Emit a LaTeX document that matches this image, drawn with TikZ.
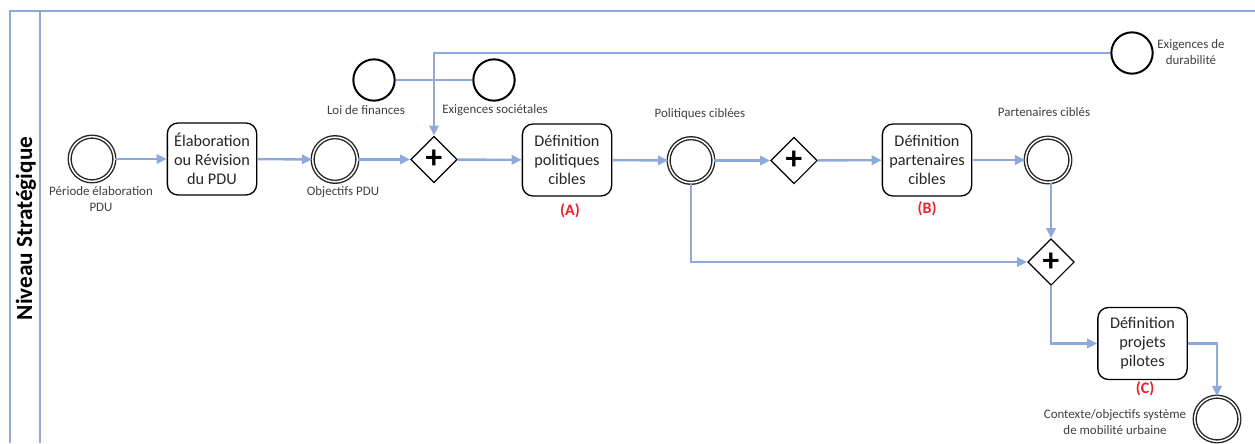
\documentclass[tikz,border=0pt]{standalone}
\usepackage{fontspec}
\setmainfont{Carlito}
\usetikzlibrary{shapes.geometric,arrows.meta}
\definecolor{flow}{RGB}{142,170,219}
\definecolor{lbl}{RGB}{64,64,64}
\definecolor{redlbl}{RGB}{240,30,40}
\tikzset{
  x=0.75pt,y=-0.75pt,
  flowline/.style={draw=flow,line width=1.8pt,-{Triangle[length=7.5pt,width=7pt,fill=flow]}},
  plainflow/.style={draw=flow,line width=1.8pt},
  frameline/.style={draw=flow,line width=1.7pt},
  ev/.style={circle,draw=black,line width=1.5pt,minimum size=31pt,inner sep=0pt,fill=white},
  dbl/.style={circle,draw=black!85,line width=1.05pt,double=white,double distance=1.1pt,minimum size=33.5pt,inner sep=0pt,fill=white},
  gate/.style={diamond,draw=black,line width=0.9pt,minimum width=35pt,minimum height=35pt,inner sep=0pt,fill=white,font=\fontsize{25}{25}\selectfont\bfseries,text=black},
  task/.style={draw=black,line width=1pt,rounded corners=8pt,minimum width=67pt,minimum height=54pt,inner sep=0pt,align=center,fill=white,font=\fontsize{12.2}{14.3}\selectfont,text=black!85},
  lab/.style={align=center,inner sep=0pt,text=lbl,font=\fontsize{9.7}{11.6}\selectfont},
  tag/.style={inner sep=0pt,text=redlbl,font=\fontsize{12}{14}\selectfont\bfseries},
}
\begin{document}
\begin{tikzpicture}
\useasboundingbox (0,0) rectangle (1255,443);
% lane frame
\coordinate (fbl) at (10,443);
\coordinate (ftl) at (10,11);
\coordinate (ftr) at (1255,11);
\coordinate (iline) at (40,11);
\coordinate (ibot) at (40,443);
\draw[frameline] (fbl) -- (ftl) -- (ftr);
\draw[frameline] (iline) -- (ibot);
\node[rotate=90,inner sep=0pt,font=\fontsize{17.4}{18}\selectfont\bfseries,text=black] (lane) at (26,228.5) {Niveau Stratégique};
% nodes
\node[dbl] (e1) at (92,159) {};
\node[task] (t1) at (212,159) {Élaboration\\ou Révision\\du PDU};
\node[dbl] (e2) at (335,159.5) {};
\node[gate] (g1) at (434,159.5) {+};
\node[task] (t2) at (567,160) {Définition\\politiques\\cibles};
\node[dbl] (e3) at (691,160.5) {};
\node[gate] (g2) at (794,160.5) {+};
\node[task] (t3) at (927,160) {Définition\\partenaires\\cibles};
\node[dbl] (e4) at (1048,160) {};
\node[gate] (g3) at (1051,262) {+};
\node[task] (t4) at (1142.5,343.5) {Définition\\projets\\pilotes};
\node[dbl] (e5) at (1217,419) {};
\node[ev] (s1) at (374,80) {};
\node[ev] (s2) at (494,80) {};
\node[ev] (s3) at (1132,53) {};
% labels
\node[lab] (l1) at (101,199) {Période élaboration\\PDU};
\node[lab] (l2) at (343,192) {Objectifs PDU};
\node[lab] (l3) at (366,110) {Loi de finances};
\node[lab] (l4) at (495,110) {Exigences sociétales};
\node[lab] (l5) at (700,114) {Politiques ciblées};
\node[lab] (l6) at (1044,112) {Partenaires ciblés};
\node[lab] (l7) at (1191,52) {Exigences de\\durabilité};
\node[lab] (l8) at (1115,422) {Contexte/objectifs système\\de mobilité urbaine};
\node[tag] (a) at (570,211) {(A)};
\node[tag] (b) at (927,209) {(B)};
\node[tag] (c) at (1145,389) {(C)};
% connectors
\draw[flowline] (e1) -- (t1);
\draw[flowline] (t1) -- (e2);
\draw[flowline] (e2) -- (g1);
\draw[flowline] (g1) -- (t2);
\draw[flowline] (t2) -- (e3);
\draw[flowline] (e3) -- (g2);
\draw[flowline] (g2) -- (t3);
\draw[flowline] (t3) -- (e4);
\draw[flowline] (e4.south -| g3.north) -- (g3.north);
\draw[plainflow] (s1) -- (s2);
\draw[flowline] (s3.west) -| (g1.north);
\draw[flowline] (e3.south) |- (g3.west);
\draw[flowline] (g3.south) |- (t4.west);
\draw[flowline] (t4.east) -| (e5.north);
\end{tikzpicture}
\end{document}
